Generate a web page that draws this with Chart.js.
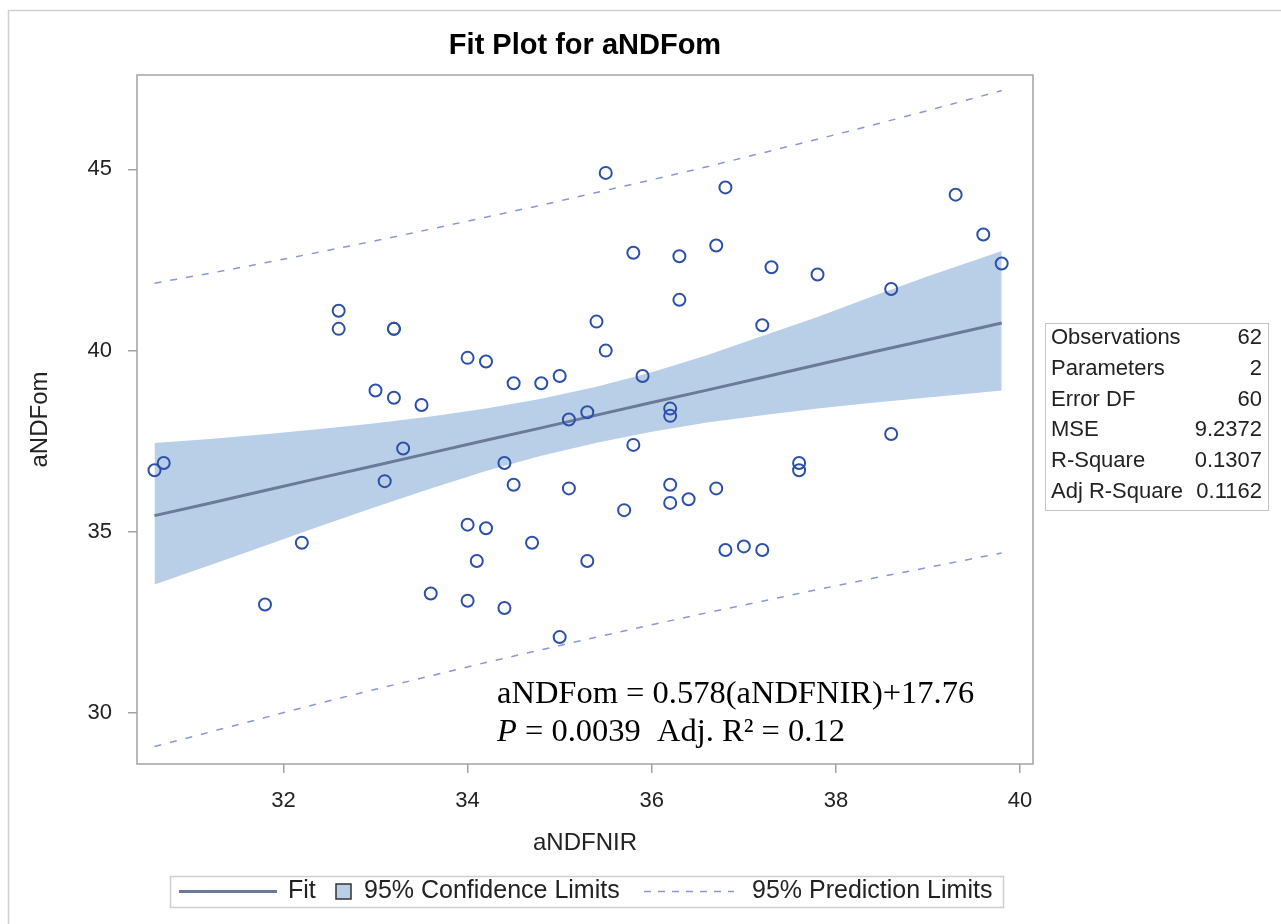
<!DOCTYPE html>
<html>
<head>
<meta charset="utf-8">
<script src="https://cdn.jsdelivr.net/npm/chart.js@4"></script>
<style>
  body { margin: 0; background: white; }
  #wrap { width: 1281px; height: 924px; }
</style>
</head>
<body>
<div id="wrap"><canvas id="c" width="1281" height="924"></canvas></div>
<script>
// observations
const aNDFNIR = [33.5, 33.3, 33.1, 34.4, 34.5, 35.1, 35.1, 34.0, 34.2, 34.7, 34.1, 32.2, 31.8, 33.6, 34.0, 34.4,
  35.0, 35.3, 35.3, 36.2, 36.2, 35.8, 38.6, 37.6, 37.6, 36.2, 36.7, 35.7, 36.2, 36.4, 36.8, 37.0, 37.2, 30.7, 30.6,
  32.6, 32.6, 33.2, 33.2, 33.0, 33.2, 34.0, 34.2, 34.5, 34.8, 35.0, 35.4, 35.5, 35.9, 35.5, 36.8, 35.8, 36.3, 36.7,
  36.3, 37.3, 37.8, 37.2, 38.6, 39.3, 39.6, 39.8];
const aNDFom = [38.5, 37.3, 36.4, 36.9, 36.3, 38.1, 36.2, 35.2, 35.1, 34.7, 34.2, 34.7, 33.0, 33.3, 33.1, 32.9,
  32.1, 34.2, 38.3, 38.4, 38.2, 37.4, 37.7, 36.9, 36.7, 36.3, 36.2, 35.6, 35.8, 35.9, 34.5, 34.6, 34.5, 36.9, 36.7,
  41.1, 40.6, 40.6, 40.6, 38.9, 38.7, 39.8, 39.7, 39.1, 39.1, 39.3, 40.8, 40.0, 39.3, 44.9, 44.5, 42.7, 42.6, 42.9,
  41.4, 42.3, 42.1, 40.7, 41.7, 44.3, 43.2, 42.4];

// fit, confidence and prediction limits
const curveX  = [30.6, 31.2, 31.8, 32.4, 33.0, 33.6, 34.2, 34.8, 35.4, 36.0, 36.6, 37.2, 37.8, 38.4, 39.0, 39.8];
const fitY    = [35.45, 35.79, 36.14, 36.49, 36.83, 37.18, 37.53, 37.87, 38.22, 38.57, 38.91, 39.26, 39.61, 39.96, 40.30, 40.76];
const clUpper = [37.45, 37.56, 37.69, 37.84, 38.00, 38.18, 38.40, 38.67, 39.00, 39.40, 39.87, 40.40, 40.93, 41.50, 42.05, 42.75];
const clLower = [33.55, 34.08, 34.62, 35.16, 35.69, 36.20, 36.68, 37.10, 37.46, 37.76, 38.02, 38.22, 38.40, 38.56, 38.71, 38.90];
const plUpper = [41.86, 42.13, 42.42, 42.72, 43.03, 43.35, 43.68, 44.01, 44.36, 44.71, 45.07, 45.45, 45.83, 46.22, 46.62, 47.17];
const plLower = [29.08, 29.48, 29.88, 30.28, 30.66, 31.03, 31.40, 31.75, 32.10, 32.44, 32.77, 33.09, 33.41, 33.72, 34.02, 34.42];

const xTicks = [32, 34, 36, 38, 40];
const yTicks = [30, 35, 40, 45];

const statLabels = ['Observations', 'Parameters', 'Error DF', 'MSE', 'R-Square', 'Adj R-Square'];
const statValues = ['62', '2', '60', '9.2372', '0.1307', '0.1162'];

const legendLabels = ['Fit', '95% Confidence Limits', '95% Prediction Limits'];

const pointColor = '#2c50a9';
const fitColor = '#6a7a98';
const bandColor = '#b9cee7';
const predColor = '#8a96d6';
const frameColor = '#a3a3a3';
const textColor = '#222';
const sans = '"Liberation Sans", Arial, sans-serif';
const serif = '"Liberation Serif", "Times New Roman", serif';

const toXY = (xs, ys) => xs.map((x, i) => ({x: x, y: ys[i]}));

const lineSet = (label, ys, extra) => Object.assign({
  label: label,
  data: toXY(curveX, ys),
  showLine: true,
  pointRadius: 0,
  fill: false,
  tension: 0,
}, extra);

const decorations = {
  id: 'decorations',
  afterDraw: (chart) => {
    const ctx = chart.ctx;
    const area = chart.chartArea;

    ctx.save();

    // outer frame
    ctx.strokeStyle = '#d0d0d0';
    ctx.lineWidth = 1.5;
    ctx.strokeRect(8.5, 10.5, 1300, 930);

    // plot frame
    ctx.strokeStyle = frameColor;
    ctx.lineWidth = 1.5;
    ctx.strokeRect(area.left, area.top, area.right - area.left, area.bottom - area.top);

    // title
    ctx.fillStyle = '#000';
    ctx.textAlign = 'center';
    ctx.textBaseline = 'middle';
    ctx.font = `bold 29px ${sans}`;
    ctx.fillText('Fit Plot for aNDFom', (area.left + area.right) / 2, 46);

    // axis titles
    ctx.fillStyle = textColor;
    ctx.font = `24px ${sans}`;
    ctx.fillText('aNDFNIR', (area.left + area.right) / 2, 843);
    ctx.save();
    ctx.translate(40, (area.top + area.bottom) / 2);
    ctx.rotate(-Math.PI / 2);
    ctx.fillText('aNDFom', 0, 0);
    ctx.restore();

    // statistics box
    ctx.strokeStyle = '#c4c4c4';
    ctx.lineWidth = 1;
    ctx.strokeRect(1045.5, 323.5, 223, 187);
    ctx.font = `22px ${sans}`;
    statLabels.forEach((label, i) => {
      const y = 338 + i * 30.8;
      ctx.textAlign = 'left';
      ctx.fillText(label, 1051, y);
      ctx.textAlign = 'right';
      ctx.fillText(statValues[i], 1262, y);
    });

    // equation
    ctx.fillStyle = '#000';
    ctx.textAlign = 'left';
    ctx.textBaseline = 'alphabetic';
    ctx.font = `32.5px ${serif}`;
    ctx.fillText('aNDFom = 0.578(aNDFNIR)+17.76', 497, 703);
    ctx.font = `italic 32.5px ${serif}`;
    ctx.fillText('P', 497, 741);
    const px = 497 + ctx.measureText('P').width;
    ctx.font = `32.5px ${serif}`;
    ctx.fillText(' = 0.0039  Adj. R\u00b2 = 0.12', px, 741);

    // legend
    ctx.strokeStyle = '#cfcfcf';
    ctx.lineWidth = 1.5;
    ctx.strokeRect(170.5, 876.5, 833, 31);
    const ly = 891.5;
    ctx.strokeStyle = fitColor;
    ctx.lineWidth = 3;
    ctx.beginPath();
    ctx.moveTo(179, ly);
    ctx.lineTo(277, ly);
    ctx.stroke();
    ctx.fillStyle = bandColor;
    ctx.fillRect(336, 884, 15, 15);
    ctx.strokeStyle = '#333';
    ctx.lineWidth = 1.5;
    ctx.strokeRect(336, 884, 15, 15);
    ctx.strokeStyle = predColor;
    ctx.lineWidth = 1.5;
    ctx.setLineDash([7, 7]);
    ctx.beginPath();
    ctx.moveTo(644, ly);
    ctx.lineTo(734, ly);
    ctx.stroke();
    ctx.setLineDash([]);
    ctx.fillStyle = textColor;
    ctx.font = `25px ${sans}`;
    ctx.textBaseline = 'middle';
    ctx.fillText(legendLabels[0], 288, ly);
    ctx.fillText(legendLabels[1], 364, ly);
    ctx.fillText(legendLabels[2], 752, ly);

    ctx.restore();
  },
};

new Chart(document.getElementById('c'), {
  type: 'scatter',
  data: {
    datasets: [
      {
        label: 'aNDFom',
        data: toXY(aNDFNIR, aNDFom),
        pointStyle: 'circle',
        pointRadius: 6,
        pointBorderWidth: 2,
        borderColor: pointColor,
        backgroundColor: 'rgba(0,0,0,0)',
      },
      lineSet('Fit', fitY, {borderColor: fitColor, borderWidth: 3}),
      lineSet('95% Prediction Upper', plUpper, {borderColor: predColor, borderWidth: 1.5, borderDash: [7, 9]}),
      lineSet('95% Prediction Lower', plLower, {borderColor: predColor, borderWidth: 1.5, borderDash: [7, 9]}),
      lineSet('95% Confidence Upper', clUpper, {borderWidth: 0, borderColor: bandColor, backgroundColor: bandColor, fill: 5}),
      lineSet('95% Confidence Lower', clLower, {borderWidth: 0, borderColor: bandColor}),
    ],
  },
  options: {
    responsive: false,
    animation: false,
    layout: {
      padding: {top: 75, right: 248, bottom: 0, left: 0},
    },
    scales: {
      x: {
        type: 'linear',
        min: 30.41,
        max: 40.14,
        afterBuildTicks: (scale) => { scale.ticks = xTicks.map(v => ({value: v})); },
        afterFit: (scale) => { scale.height = 160; },
        grid: {drawOnChartArea: false, drawTicks: true, tickLength: 9, color: frameColor, lineWidth: 1.5},
        border: {display: false},
        ticks: {font: {family: sans, size: 22}, color: textColor, padding: 15, maxRotation: 0},
      },
      y: {
        type: 'linear',
        min: 28.6,
        max: 47.6,
        afterBuildTicks: (scale) => { scale.ticks = yTicks.map(v => ({value: v})); },
        afterFit: (scale) => { scale.width = 137; },
        grid: {drawOnChartArea: false, drawTicks: true, tickLength: 9, color: frameColor, lineWidth: 1.5},
        border: {display: false},
        ticks: {font: {family: sans, size: 22}, color: textColor, padding: 16},
      },
    },
    plugins: {
      legend: {display: false},
      title: {display: false},
      tooltip: {enabled: false},
    },
  },
  plugins: [decorations],
});
</script>
</body>
</html>
